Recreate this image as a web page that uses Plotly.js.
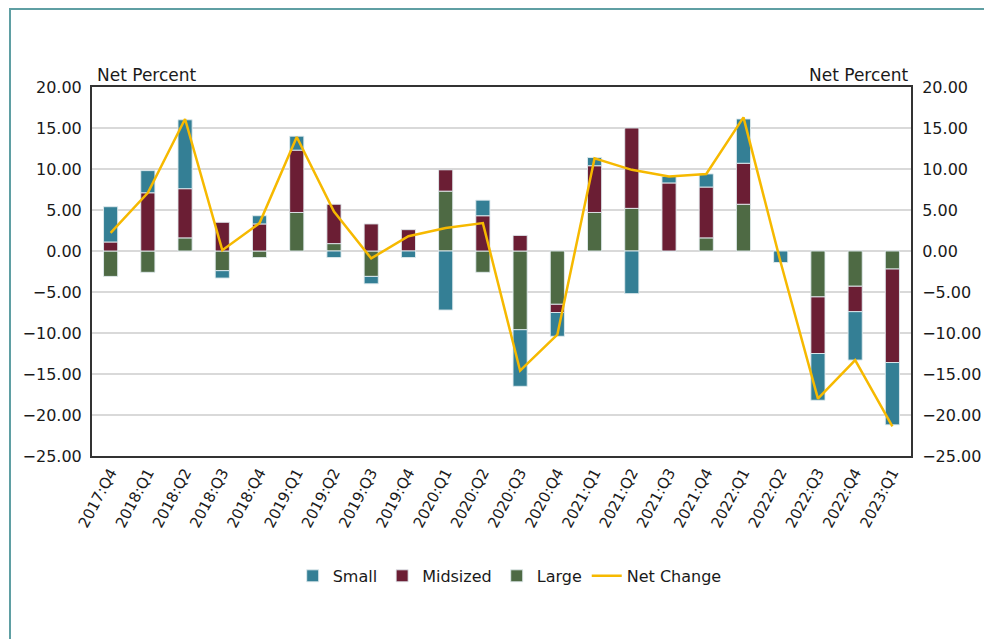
<!DOCTYPE html>
<html>
<head>
<meta charset="utf-8">
<script src="https://cdn.plot.ly/plotly-3.0.1.min.js"></script>
<style>
    body { margin: 0; background: #ffffff; overflow: hidden; }
    #graph { position: absolute; left: 0; top: 0; width: 984px; height: 639px; }
    #frame { position: absolute; left: 9px; top: 8px; width: 1100px; height: 800px; border: 2px solid #5f9fa3; pointer-events: none; z-index: 5; }
</style>
</head>
<body>
<div id="graph"></div>
<div id="frame"></div>
<script>
var quarters = ['2017:Q4', '2018:Q1', '2018:Q2', '2018:Q3', '2018:Q4', '2019:Q1', '2019:Q2', '2019:Q3', '2019:Q4',
    '2020:Q1', '2020:Q2', '2020:Q3', '2020:Q4', '2021:Q1', '2021:Q2', '2021:Q3', '2021:Q4',
    '2022:Q1', '2022:Q2', '2022:Q3', '2022:Q4', '2023:Q1']; /*x axis categories*/
var large = [-3.1, -2.6, 1.6, -2.4, -0.8, 4.7, 0.9, -3.1, 0, 7.3, -2.6, -9.6, -6.5, 4.7, 5.2, 0, 1.6, 5.7, 0, -5.6, -4.3, -2.2];
var midsized = [1.1, 7.1, 6.0, 3.5, 3.3, 7.6, 4.8, 3.3, 2.6, 2.6, 4.3, 1.9, -1.0, 5.7, 9.8, 8.3, 6.2, 5.0, 0, -6.9, -3.1, -11.4];
var small = [4.3, 2.7, 8.4, -0.9, 1.0, 1.7, -0.8, -0.9, -0.8, -7.2, 1.9, -6.9, -2.9, 1.0, -5.2, 0.8, 1.6, 5.4, -1.4, -5.7, -5.9, -7.6];
var netChange = [2.2, 7.1, 16.1, 0.1, 3.4, 13.9, 4.8, -0.9, 1.8, 2.8, 3.4, -14.6, -10.2, 11.3, 9.9, 9.1, 9.4, 16.3, -1.4, -18.0, -13.3, -21.4];
var yTicks = [20, 15, 10, 5, 0, -5, -10, -15, -20, -25]; /*same ticks on both sides*/

var fontName = 'DejaVu Sans';
var textColor = '#1a1a1a';
var barLine = { color: 'rgba(225, 235, 238, 0.9)', width: 1 };

function drawGraph() {
    /*large is first so it sits next to zero, legendrank puts it last in the key*/
    var largeBars = {
        x: quarters, y: large, type: 'bar', name: 'Large', legendrank: 3,
        marker: { color: '#4e6a44', line: barLine }
    };
    var midBars = {
        x: quarters, y: midsized, type: 'bar', name: 'Midsized', legendrank: 2,
        marker: { color: '#6b1e34', line: barLine }
    };
    var smallBars = {
        x: quarters, y: small, type: 'bar', name: 'Small', legendrank: 1,
        marker: { color: '#347f95', line: barLine }
    };
    var netLine = {
        x: quarters, y: netChange, type: 'scatter', mode: 'lines', name: 'Net Change', legendrank: 4,
        yaxis: 'y2',
        line: { color: '#f6b900', width: 2.5 }
    };
    var data = [largeBars, midBars, smallBars, netLine];

    var layout = {
        barmode: 'relative',
        bargap: 0.62,
        width: 984,
        height: 639,
        margin: { l: 92, r: 73, t: 87, b: 183 },
        paper_bgcolor: '#ffffff',
        plot_bgcolor: '#ffffff',
        font: { family: fontName, size: 16, color: textColor },
        showlegend: true,
        legend: {
            orientation: 'h', x: 0.51, xanchor: 'center', y: -0.325, yanchor: 'middle',
            font: { family: fontName, size: 16, color: textColor },
            itemwidth: 30, traceorder: 'normal'
        },
        xaxis: {
            type: 'category',
            tickangle: -62,
            tickfont: { family: fontName, size: 15, color: textColor },
            showgrid: false,
            showline: true, linecolor: '#333333', linewidth: 2, mirror: true,
            ticks: ''
        },
        yaxis: {
            range: [-25, 20],
            tickvals: yTicks,
            tickformat: '.2f',
            tickfont: { family: fontName, size: 16, color: textColor },
            gridcolor: '#d9d9d9', gridwidth: 1.5,
            zeroline: false,
            showline: true, linecolor: '#333333', linewidth: 2,
            ticks: '', ticklabelstandoff: 5
        },
        yaxis2: {
            overlaying: 'y', side: 'right',
            range: [-25, 20],
            tickvals: yTicks,
            tickformat: '.2f',
            tickfont: { family: fontName, size: 16, color: textColor },
            showgrid: false, zeroline: false,
            showline: true, linecolor: '#333333', linewidth: 2,
            ticks: '', ticklabelstandoff: 6
        },
        annotations: [
            { text: 'Net Percent', xref: 'paper', yref: 'paper', x: 0.004, y: 1.0, xanchor: 'left', yanchor: 'bottom',
              showarrow: false, font: { family: fontName, size: 17, color: textColor } },
            { text: 'Net Percent', xref: 'paper', yref: 'paper', x: 1.0, y: 1.0, xanchor: 'right', yanchor: 'bottom',
              showarrow: false, font: { family: fontName, size: 17, color: textColor } }
        ]
    };

    Plotly.newPlot('graph', data, layout, { displayModeBar: false, staticPlot: true });
}
drawGraph();
</script>
</body>
</html>
